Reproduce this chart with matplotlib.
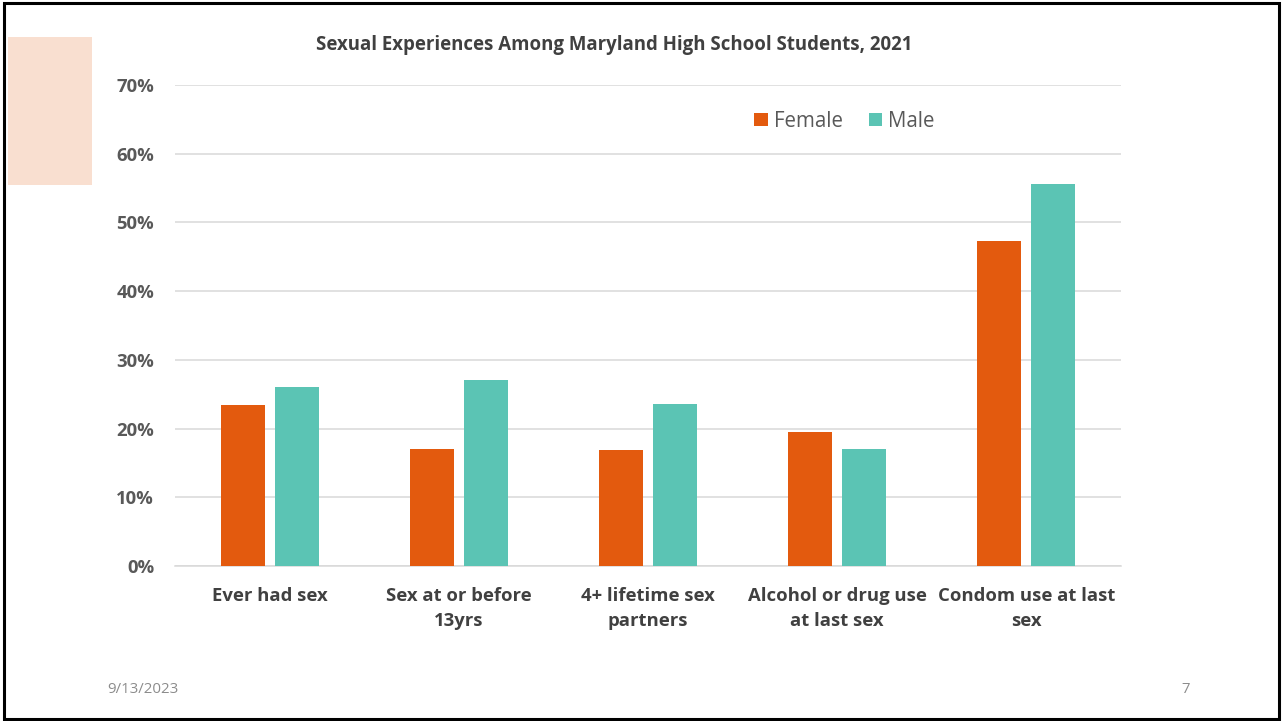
import matplotlib.pyplot as plt
import numpy as np
from matplotlib.patches import Rectangle

categories = ["Ever had sex", "Sex at or before\n13yrs", "4+ lifetime sex\npartners",
              "Alcohol or drug use\nat last sex", "Condom use at last\nsex"]
female = [23.4, 17.0, 16.9, 19.5, 47.3]
male = [26.1, 27.0, 23.6, 17.0, 55.6]
yticks = [0, 10, 20, 30, 40, 50, 60, 70]

orange = "#E35A0E"
teal = "#5BC4B4"
font = ["Open Sans", "DejaVu Sans"]

fig = plt.figure(figsize=(12.83, 7.21), dpi=100)

# slide frame and the peach brush stroke at top left
fig.patches.append(Rectangle((0.003, 0.003), 0.994, 0.993, transform=fig.transFigure,
                             fill=False, edgecolor="black", linewidth=2.2, zorder=-1))
fig.patches.append(Rectangle((0.006, 0.743), 0.066, 0.205, transform=fig.transFigure,
                             facecolor="#F9DFD0", edgecolor="none", zorder=-1))

ax = fig.add_axes([0.1364, 0.215, 0.7373, 0.667])
ax.patch.set_alpha(0)
x = np.arange(len(categories))
w = 0.233
ax.bar(x - 0.143, female, w, color=orange, label="Female", zorder=3)
ax.bar(x + 0.143, male, w, color=teal, label="Male", zorder=3)

ax.set_xlim(-0.5, len(categories) - 0.5)
ax.set_ylim(0, 70)
ax.set_yticks(yticks)
ax.set_yticklabels([f"{t}%" for t in yticks], fontfamily=font, fontweight="bold",
                   fontsize=13.3, color="#595959")
ax.set_xticks(x)
ax.set_xticklabels(categories, fontfamily=font, fontweight="bold", fontsize=13.3,
                   color="#404040", linespacing=1.5)
ax.tick_params(axis="both", length=0)
ax.tick_params(axis="y", pad=15)
ax.tick_params(axis="x", pad=15)
ax.grid(axis="y", color="#D9D9D9", linewidth=1.1, zorder=0)
for s in ["top", "right", "left"]:
    ax.spines[s].set_visible(False)
ax.spines["bottom"].set_color("#D9D9D9")
ax.spines["bottom"].set_linewidth(1.1)

ax.legend(loc="upper left", bbox_to_anchor=(0.593, 0.985), ncol=2, frameon=False,
          prop={"family": font, "size": 14.8}, handlelength=0.65, handleheight=0.65,
          handletextpad=0.3, columnspacing=1.25, labelcolor="#595959")

fig.text(0.479, 0.938, "Sexual Experiences Among Maryland High School Students, 2021",
         ha="center", va="center", fontfamily=font, fontweight="bold", fontsize=13.4,
         color="#404040")
fig.text(0.0835, 0.043, "9/13/2023", ha="left", va="center", fontfamily=font,
         fontsize=10.8, color="#8C8C8C")
fig.text(0.924, 0.043, "7", ha="center", va="center", fontfamily=font,
         fontsize=10.8, color="#8C8C8C")

fig.savefig("out.png", dpi=100)
